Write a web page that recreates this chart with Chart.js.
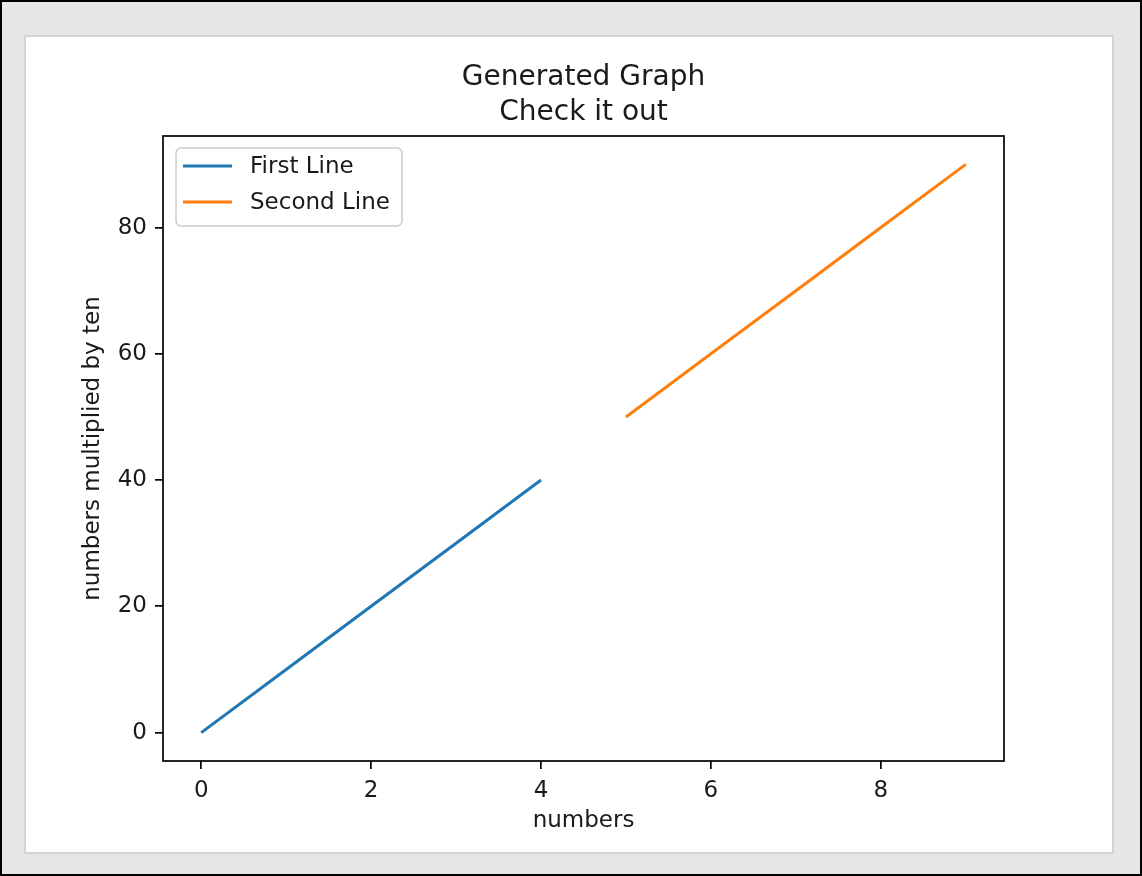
<!DOCTYPE html>
<html>
<head>
<meta charset="utf-8">
<script src="https://cdn.jsdelivr.net/npm/chart.js@4/dist/chart.umd.min.js"></script>
<style>
  body { margin: 0; background: #e6e6e6; font-family: "DejaVu Sans", sans-serif; }
  #frame { position: absolute; left: 0; top: 0; width: 1142px; height: 876px; box-sizing: border-box; border: 2px solid #000; background: #e6e6e6; }
  #panel { position: absolute; left: 24px; top: 35px; width: 1090px; height: 819px; box-sizing: border-box; border: 2px solid #d4d4d4; background: #fff; }
  #grafico { position: absolute; left: 26px; top: 37px; }
</style>
</head>
<body>
<div id="frame"></div>
<div id="panel"></div>
<canvas id="grafico" width="1086" height="815" style="width:1086px;height:815px"></canvas>
<script>
// Datos
const firstX = [0, 1, 2, 3, 4];
const firstY = [0, 10, 20, 30, 40];
const secondX = [5, 6, 7, 8, 9];
const secondY = [50, 60, 70, 80, 90];
const xTicks = [0, 2, 4, 6, 8];
const yTicks = [0, 20, 40, 60, 80];
const labels = ['First Line', 'Second Line'];
const colores = ['#1f77b4', '#ff7f0e'];

const fuente = '"DejaVu Sans", sans-serif';
const texto = '#1a1a1a';

function puntos(xs, ys) {
  return xs.map((x, i) => ({ x: x, y: ys[i] }));
}

// Marco del area + leyenda estilo matplotlib
const marcoPlugin = {
  id: 'marco',
  afterDraw(chart) {
    const { ctx, chartArea: ca } = chart;
    ctx.save();
    ctx.strokeStyle = '#000';
    ctx.lineWidth = 1.7;
    ctx.strokeRect(ca.left, ca.top, ca.right - ca.left, ca.bottom - ca.top);

    // leyenda
    const bx = ca.left + 13, by = ca.top + 12, bw = 226, bh = 78;
    ctx.beginPath();
    ctx.roundRect(bx, by, bw, bh, 5);
    ctx.fillStyle = 'rgba(255,255,255,0.8)';
    ctx.fill();
    ctx.strokeStyle = '#cccccc';
    ctx.lineWidth = 1.5;
    ctx.stroke();
    ctx.font = '23px ' + fuente;
    ctx.textBaseline = 'middle';
    ctx.fillStyle = texto;
    chart.data.datasets.forEach((ds, i) => {
      const y = by + 18 + i * 36;
      ctx.beginPath();
      ctx.moveTo(bx + 7, y);
      ctx.lineTo(bx + 56, y);
      ctx.strokeStyle = ds.borderColor;
      ctx.lineWidth = 3;
      ctx.stroke();
      ctx.fillText(ds.label, bx + 74, y + 1.5);
    });
    ctx.restore();
  }
};

const ctx = document.getElementById('grafico').getContext('2d');
new Chart(ctx, {
  type: 'line',
  data: {
    datasets: [
      { label: labels[0], data: puntos(firstX, firstY), borderColor: colores[0], borderWidth: 3, pointRadius: 0, fill: false, tension: 0 },
      { label: labels[1], data: puntos(secondX, secondY), borderColor: colores[1], borderWidth: 3, pointRadius: 0, fill: false, tension: 0 }
    ]
  },
  options: {
    responsive: false,
    animation: false,
    layout: { padding: { left: 0, right: 108, top: 0, bottom: 0 } },
    plugins: {
      legend: { display: false },
      tooltip: { enabled: false },
      title: {
        display: true,
        fullSize: false,
        text: ['Generated Graph', 'Check it out'],
        color: texto,
        font: { family: fuente, size: 28, weight: 'normal', lineHeight: '35px' },
        padding: { top: 23.5, bottom: 5.5 }
      }
    },
    scales: {
      x: {
        type: 'linear',
        min: -0.45,
        max: 9.45,
        afterFit: s => { s.height = 91; },
        afterBuildTicks: s => { s.ticks = xTicks.map(v => ({ value: v })); },
        grid: { display: true, drawOnChartArea: false, drawTicks: true, tickLength: 8, color: '#000', lineWidth: 1.7 },
        border: { display: false },
        ticks: { color: texto, padding: 8, maxRotation: 0, font: { family: fuente, size: 23 } },
        title: { display: true, text: 'numbers', color: texto, font: { family: fuente, size: 23 }, padding: { top: 0, bottom: 17 } }
      },
      y: {
        type: 'linear',
        min: -4.5,
        max: 94.5,
        afterFit: s => { s.width = 137; },
        afterBuildTicks: s => { s.ticks = yTicks.map(v => ({ value: v })); },
        grid: { display: true, drawOnChartArea: false, drawTicks: true, tickLength: 8, color: '#000', lineWidth: 1.7 },
        border: { display: false },
        ticks: { color: texto, padding: 8, font: { family: fuente, size: 23 } },
        title: { display: true, text: 'numbers multiplied by ten', color: texto, font: { family: fuente, size: 23 }, padding: { top: 53, bottom: 0 } }
      }
    }
  },
  plugins: [marcoPlugin]
});
</script>
</body>
</html>
